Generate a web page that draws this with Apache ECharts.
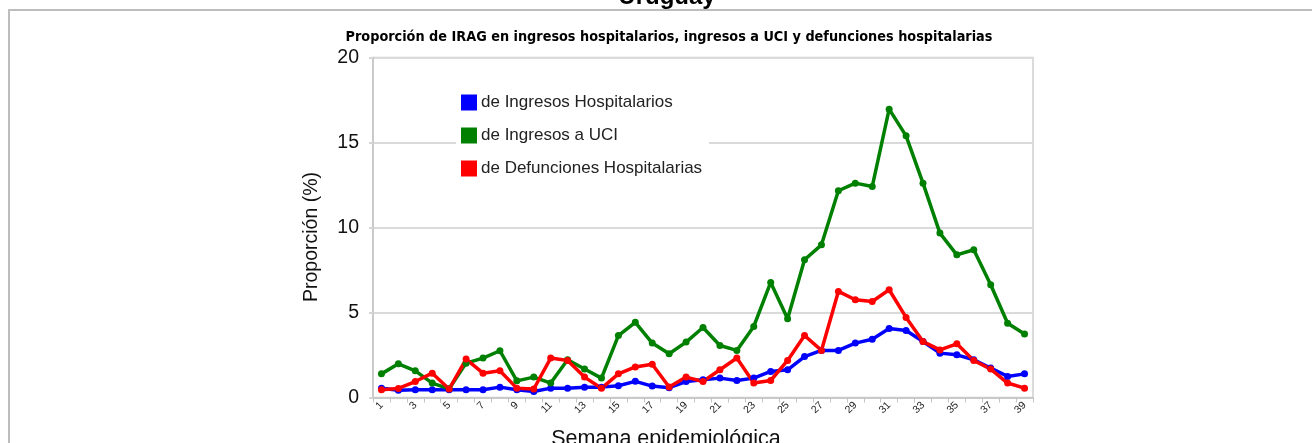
<!DOCTYPE html>
<html>
<head>
<meta charset="utf-8">
<script src="https://cdn.jsdelivr.net/npm/echarts@6/dist/echarts.min.js"></script>
<style>
  html, body { margin: 0; padding: 0; background: #ffffff; }
  #chart { width: 1312px; height: 443px; }
</style>
</head>
<body>
<div id="chart"></div>
<script>
// Semanas epidemiológicas 1..39
const semanas = ['1','2','3','4','5','6','7','8','9','10','11','12','13','14','15','16','17','18','19','20',
                 '21','22','23','24','25','26','27','28','29','30','31','32','33','34','35','36','37','38','39'];

// Proporción (%) de IRAG por semana
const ingresosHosp = [0.55,0.42,0.45,0.45,0.45,0.45,0.45,0.61,0.45,0.35,0.55,0.55,0.61,0.61,0.69,0.95,0.67,0.58,0.94,1.04,
                      1.14,1.0,1.14,1.53,1.63,2.41,2.77,2.77,3.2,3.43,4.06,3.94,3.29,2.61,2.51,2.22,1.73,1.24,1.39];
const ingresosUci = [1.39,1.98,1.57,0.85,0.51,2.02,2.32,2.75,0.98,1.2,0.85,2.22,1.68,1.14,3.64,4.42,3.2,2.57,3.26,4.12,
                     3.06,2.77,4.18,6.77,4.63,8.1,8.98,12.16,12.61,12.41,16.96,15.39,12.61,9.67,8.39,8.69,6.63,4.37,3.73];
const defunciones = [0.45,0.53,0.94,1.43,0.5,2.26,1.43,1.57,0.55,0.5,2.32,2.18,1.2,0.54,1.39,1.8,1.96,0.62,1.2,0.94,
                     1.63,2.32,0.85,1.0,2.18,3.65,2.77,6.24,5.75,5.65,6.34,4.71,3.29,2.8,3.16,2.18,1.67,0.85,0.55];

const yTicks = [0, 5, 10, 15, 20];

const chart = echarts.init(document.getElementById('chart'), null, { renderer: 'canvas' });
const sans = '"Liberation Sans", Arial, sans-serif';

function serie(name, color, data) {
  return {
    name: name,
    type: 'line',
    data: data,
    symbol: 'circle',
    symbolSize: 7,
    showSymbol: true,
    itemStyle: { color: color },
    lineStyle: { color: color, width: 3.5 },
    emphasis: { disabled: true },
    animation: false
  };
}

chart.setOption({
  animation: false,
  backgroundColor: '#ffffff',
  graphic: [
    // marco exterior
    { type: 'line', shape: { x1: 8, y1: 10, x2: 1312, y2: 10 }, style: { stroke: '#bdbdbd', lineWidth: 2 }, z: 0 },
    { type: 'line', shape: { x1: 9, y1: 10, x2: 9, y2: 443 }, style: { stroke: '#bdbdbd', lineWidth: 2 }, z: 0 },
    { type: 'text', x: 667, y: 9, style: { text: 'Uruguay', font: 'bold 24px ' + sans,
        fill: '#000', textAlign: 'center', textVerticalAlign: 'bottom' } },
    { type: 'text', x: 669, y: 37, style: { text: 'Proporción de IRAG en ingresos hospitalarios, ingresos a UCI y defunciones hospitalarias',
        font: 'bold 14.3px "DejaVu Sans Condensed", "DejaVu Sans", sans-serif', fill: '#000', textAlign: 'center', textVerticalAlign: 'middle' } },
    { type: 'text', x: 666, y: 428, style: { text: 'Semana epidemiológica',
        font: '21.5px ' + sans, fill: '#111', textAlign: 'center', textVerticalAlign: 'top' } },
    { type: 'text', x: 312, y: 237, rotation: Math.PI / 2, style: { text: 'Proporción (%)',
        font: '19.5px ' + sans, fill: '#111', textAlign: 'center', textVerticalAlign: 'middle' } }
  ],
  grid: {
    left: 373, right: 279, top: 57.5, height: 340,
    show: true, borderColor: '#d0d0d0', borderWidth: 1.5, backgroundColor: 'transparent'
  },
  legend: {
    orient: 'vertical',
    left: 456, top: 84,
    padding: [10, 7, 12, 5],
    backgroundColor: '#ffffff',
    icon: 'rect',
    itemWidth: 16, itemHeight: 16, itemGap: 16,
    textStyle: { fontSize: 17, color: '#222', fontFamily: sans, padding: [0, 0, 0, -1] },
    data: ['de Ingresos Hospitalarios', 'de Ingresos a UCI', 'de Defunciones Hospitalarias'],
    selectedMode: false,
    z: 10
  },
  xAxis: {
    type: 'category',
    data: semanas,
    boundaryGap: true,
    axisLine: { lineStyle: { color: '#c4c4c4', width: 1.5 } },
    axisTick: { show: true, interval: 0, length: 5, lineStyle: { color: '#c4c4c4' } },
    axisLabel: {
      interval: function (i) { return i % 2 === 0; },
      rotate: 45, margin: 6,
      fontSize: 10.5, color: '#222', fontFamily: sans
    },
    splitLine: { show: false }
  },
  yAxis: {
    type: 'value',
    min: yTicks[0], max: yTicks[yTicks.length - 1], interval: 5,
    axisLine: { show: true, lineStyle: { color: '#c4c4c4', width: 1.5 } },
    axisTick: { show: true, length: 4, lineStyle: { color: '#d6d6d6', width: 2 } },
    axisLabel: { fontSize: 19.5, color: '#111', margin: 14, fontFamily: sans },
    splitLine: { show: true, lineStyle: { color: '#dadada', width: 2 } }
  },
  series: [
    serie('de Ingresos Hospitalarios', '#0000ff', ingresosHosp),
    serie('de Ingresos a UCI', '#008000', ingresosUci),
    serie('de Defunciones Hospitalarias', '#ff0000', defunciones)
  ]
});
</script>
</body>
</html>
